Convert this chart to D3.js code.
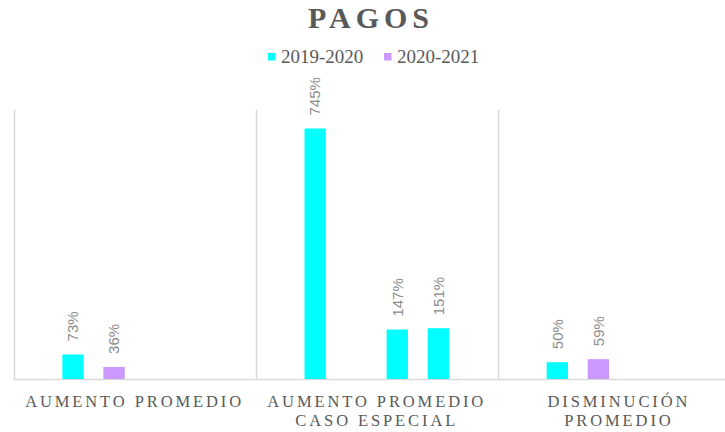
<!DOCTYPE html>
<html>
  <head>
    <title>Pagos</title>
    <style>
      body {
        margin: 0;
        padding: 0;
        overflow: hidden;
        width: 725px;
        height: 432px;
        background: #fff;
      }
      svg {
        display: block;
      }
    </style>
    <script src="https://unpkg.com/d3@7.1.1/dist/d3.min.js"></script>
  </head>
  <body>
    <svg></svg>
    <script>
      const width = 725;
      const height = 432;

      // Datos
      const categories = [
        ['AUMENTO PROMEDIO'],
        ['AUMENTO PROMEDIO', 'CASO ESPECIAL'],
        ['DISMINUCIÓN', 'PROMEDIO']
      ];
      const seriesNames = ['2019-2020', '2020-2021'];
      const seriesColors = ['#00FFFF', '#CC99FF'];
      // cuatro posiciones por categoría (null = sin barra)
      const slot1 = [73, 745, 50];
      const slot2 = [36, null, 59];
      const slot3 = [null, 147, null];
      const slot4 = [null, 151, null];
      const slotColors = ['#00FFFF', '#CC99FF', '#00FFFF', '#00FFFF'];
      const yMax = 800;

      const slots = [slot1, slot2, slot3, slot4];

      const svg = d3.select('svg').attr('width', width).attr('height', height);

      const plot = { left: 13.5, right: 740, top: 110, bottom: 379 };

      const x = d3.scaleBand()
        .domain(d3.range(categories.length))
        .range([plot.left, plot.right])
        .padding(0);

      const xs = d3.scaleBand()
        .domain(d3.range(slots.length))
        .range([0, x.bandwidth()])
        .paddingInner(0.48)
        .paddingOuter(1.19);

      const y = d3.scaleLinear().domain([0, yMax]).range([plot.bottom, plot.top]);

      // Líneas de separación
      const seps = d3.range(categories.length).map((i) => x(i));
      svg.selectAll('line.sep')
        .data(seps)
        .enter()
        .append('line')
        .attr('x1', (d) => Math.round(d) + 0.5)
        .attr('x2', (d) => Math.round(d) + 0.5)
        .attr('y1', plot.top)
        .attr('y2', plot.bottom)
        .attr('stroke', '#d9d9d9')
        .attr('stroke-width', 1.5);

      svg.append('line')
        .attr('x1', plot.left)
        .attr('x2', plot.right)
        .attr('y1', plot.bottom + 0.5)
        .attr('y2', plot.bottom + 0.5)
        .attr('stroke', '#d9d9d9')
        .attr('stroke-width', 1.5);

      // Barras
      const bars = [];
      slots.forEach((vals, s) => {
        vals.forEach((v, c) => {
          if (v !== null) bars.push({ c, s, v });
        });
      });

      svg.selectAll('rect.bar')
        .data(bars)
        .enter()
        .append('rect')
        .attr('class', 'bar')
        .attr('x', (d) => x(d.c) + xs(d.s))
        .attr('y', (d) => y(d.v))
        .attr('width', xs.bandwidth())
        .attr('height', (d) => y(0) - y(d.v))
        .attr('fill', (d) => slotColors[d.s]);

      // Etiquetas de datos
      svg.selectAll('text.lbl')
        .data(bars)
        .enter()
        .append('text')
        .attr('transform', (d) => {
          const cx = x(d.c) + xs(d.s) + xs.bandwidth() / 2;
          return `translate(${cx},${y(d.v) - 13}) rotate(-90)`;
        })
        .attr('dy', '0.35em')
        .attr('text-anchor', 'start')
        .attr('font-family', 'Liberation Sans, Arial, sans-serif')
        .attr('font-size', 15)
        .attr('fill', '#8c8c8c')
        .text((d) => d.v + '%');

      // Etiquetas de categorías
      const catG = svg.selectAll('text.cat')
        .data(categories)
        .enter()
        .append('text')
        .attr('text-anchor', 'middle')
        .attr('font-family', 'Liberation Serif, Times New Roman, serif')
        .attr('font-size', 16.5)
        .attr('letter-spacing', 2.9)
        .attr('fill', '#595959');
      catG.selectAll('tspan')
        .data((d, i) => d.map((t) => ({ t, i })))
        .enter()
        .append('tspan')
        .attr('x', (d) => x(d.i) + x.bandwidth() / 2)
        .attr('y', (d, j) => 406.5 + j * 19)
        .text((d) => d.t);

      // Título
      svg.append('text')
        .attr('x', 371)
        .attr('y', 28)
        .attr('text-anchor', 'middle')
        .attr('font-family', 'Liberation Serif, Times New Roman, serif')
        .attr('font-weight', 'bold')
        .attr('font-size', 30)
        .attr('letter-spacing', 5)
        .attr('fill', '#595959')
        .text('PAGOS');

      // Leyenda
      const legendX = [268, 384];
      const leg = svg.selectAll('g.leg')
        .data(seriesNames)
        .enter()
        .append('g')
        .attr('transform', (d, i) => `translate(${legendX[i]},0)`);
      leg.append('rect')
        .attr('x', 0)
        .attr('y', 53)
        .attr('width', 7.5)
        .attr('height', 7.5)
        .attr('fill', (d, i) => seriesColors[i]);
      leg.append('text')
        .attr('x', 13)
        .attr('y', 63)
        .attr('font-family', 'Liberation Serif, Times New Roman, serif')
        .attr('font-size', 19)
        .attr('fill', '#595959')
        .text((d) => d);
    </script>
  </body>
</html>
